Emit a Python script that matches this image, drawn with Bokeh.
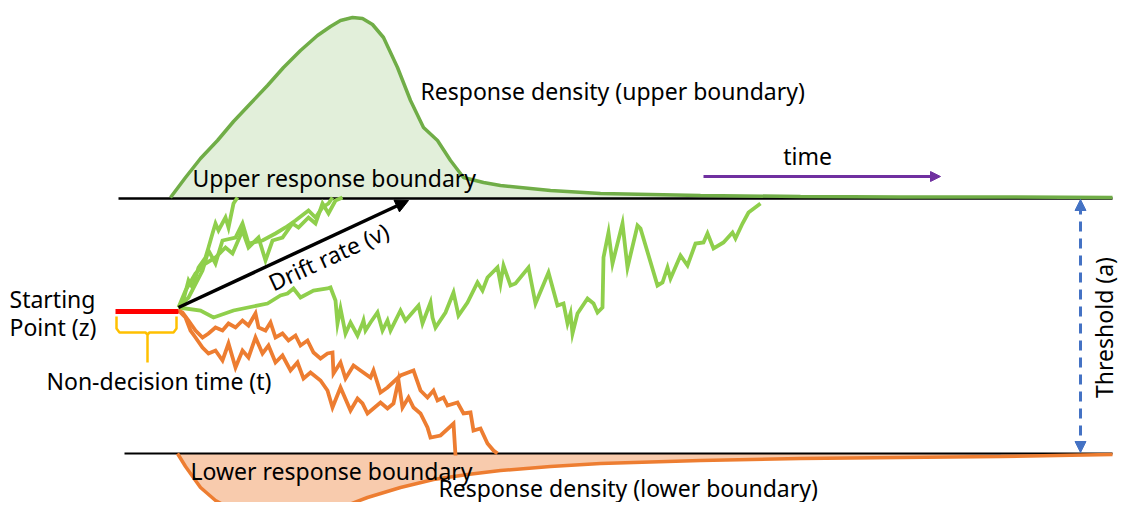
from bokeh.plotting import figure
from bokeh.models import Range1d, Label, Arrow, NormalHead
from bokeh.embed import file_html
from bokeh.resources import INLINE

# ---------------- data (diagram coordinates; y grows downward) ----------------
upper_boundary_y = 198
lower_boundary_y = 453
boundary_x0, boundary_x1 = 118, 1112
lower_boundary_x0 = 124

upper_density_x = [170, 185, 200, 217, 233, 250, 267, 283, 300, 317, 330, 340, 352, 362, 372, 383, 397, 410, 423,
                   437, 450, 463, 483, 500, 550, 600, 700, 800, 900, 1000, 1112]
upper_density_y = [197, 177, 158, 140, 121, 103, 85, 67, 50, 35, 26, 20, 17, 18, 24, 37, 67, 100, 127,
                   140, 160, 177, 182, 185, 190, 193, 195, 196, 196.5, 196.5, 197]

lower_density_x = [177, 185, 200, 215, 233, 250, 267, 300, 333, 367, 400, 433, 467, 500, 550, 600,
                   700, 800, 900, 1000, 1112]
lower_density_y = [453, 466, 487, 500, 510, 515, 518, 518, 510, 497, 487, 479, 474, 470, 466, 463,
                   460, 458, 457, 456, 454]

green_long_x = [178, 200, 213, 233, 267, 280, 287, 293, 300, 313, 327, 330, 335, 337, 340, 345, 350, 357,
                362, 363, 365, 370, 377, 382, 387, 390, 400, 405, 418, 422, 430, 432, 435, 445, 453, 458,
                467, 477, 482, 487, 497, 500, 503, 510, 515, 528, 535, 548, 557, 563, 567, 570, 572, 577,
                587, 593, 597, 602, 603, 608, 612, 622, 627, 637, 640, 657, 662, 667, 670, 680, 687, 695,
                703, 707, 713, 723, 732, 735, 742, 748, 760]
green_long_y = [307, 310, 317, 310, 303, 295, 293, 288, 297, 290, 288, 287, 300, 323, 308, 333, 322, 335,
                323, 320, 330, 322, 312, 330, 320, 330, 310, 320, 305, 323, 302, 317, 327, 312, 292, 315,
                302, 282, 290, 277, 267, 283, 265, 285, 283, 267, 303, 272, 305, 303, 323, 313, 333, 313,
                298, 303, 312, 307, 257, 232, 263, 223, 267, 225, 228, 285, 282, 267, 278, 255, 265, 243,
                242, 233, 248, 242, 232, 238, 223, 212, 203]

green_a_x = [178, 182, 188, 192, 198, 205, 208, 212, 215, 218, 225, 228, 233, 237]
green_a_y = [307, 303, 280, 287, 267, 257, 247, 233, 223, 230, 217, 227, 203, 197]

green_b_x = [178, 185, 195, 205, 215, 225, 232, 242, 248, 258, 265, 272, 282, 292, 298, 308, 315,
             322, 328, 335, 342]
green_b_y = [307, 290, 273, 263, 257, 247, 253, 230, 247, 237, 260, 240, 237, 223, 227, 217, 223,
             203, 213, 200, 197]

green_c_x = [178, 188, 202, 208, 215, 222, 235, 242, 248, 262, 275, 285, 295, 308, 315, 322, 328, 332]
green_c_y = [307, 297, 270, 250, 263, 240, 237, 223, 243, 240, 233, 227, 220, 210, 217, 207, 203, 197]

orange_a_x = [178, 182, 188, 195, 202, 208, 215, 222, 228, 235, 242, 248, 255, 258, 265, 270, 275, 282,
              288, 295, 300, 307, 313, 320, 327, 332, 333, 340, 345, 353, 360, 370, 373, 380, 387, 400,
              413, 420, 427, 433, 437, 443, 447, 457, 463, 470, 473, 480, 487, 493, 497]
orange_a_y = [310, 312, 320, 330, 337, 333, 327, 330, 323, 327, 320, 325, 313, 327, 330, 322, 337, 333,
              340, 335, 345, 340, 352, 358, 353, 352, 373, 362, 378, 365, 370, 377, 370, 392, 387, 375,
              370, 390, 397, 390, 400, 397, 405, 402, 413, 412, 430, 428, 443, 450, 453]

orange_b_x = [178, 185, 190, 195, 202, 208, 215, 222, 228, 235, 242, 248, 255, 262, 268, 275, 282, 290,
              297, 303, 310, 320, 327, 332, 340, 350, 357, 362, 367, 380, 387, 393, 398, 402, 408, 413,
              420, 427, 430, 440, 453, 455]
orange_b_y = [310, 317, 330, 337, 347, 353, 350, 360, 343, 367, 350, 357, 337, 353, 345, 362, 355, 370,
              362, 378, 372, 380, 390, 407, 387, 410, 398, 403, 413, 402, 408, 403, 380, 407, 397, 407,
              413, 427, 437, 435, 423, 455]

start_x0, start_x1, start_y = 115, 178, 311
brace_left_x = [116, 116, 119, 145, 147, 147]
brace_left_y = [316, 328, 332, 332, 334, 362]
brace_right_x = [147, 149, 173, 176, 176]
brace_right_y = [334, 332, 332, 328, 316]

drift_start = (178, 307)
drift_end = (408, 200)
time_start = (703, 176)
time_end = (940, 176)
threshold_x = 1080

labels = ["Starting", "Point (z)", "Non-decision time (t)", "Response density (upper boundary)",
          "Upper response boundary", "time", "Drift rate (v)", "Threshold (a)",
          "Lower response boundary", "Response density (lower boundary)"]

# ---------------- figure ----------------
p = figure(width=1119, height=502, x_range=Range1d(0, 1119), y_range=Range1d(502, 0),
           output_backend="svg", toolbar_location=None, x_axis_type=None, y_axis_type=None,
           min_border=0)
p.grid.visible = False
p.outline_line_color = None
p.background_fill_color = "white"

GREEN_FILL = "#e2efda"
GREEN_LINE = "#70ad47"
ORANGE_FILL = "#f8cbad"
ORANGE_LINE = "#ed7d31"
WALK_GREEN = "#8fcf4c"

# densities (fills)
p.patch(upper_density_x + [upper_density_x[-1], upper_density_x[0]],
        upper_density_y + [upper_boundary_y, upper_boundary_y],
        fill_color=GREEN_FILL, line_color=None)
p.patch(lower_density_x + [lower_density_x[-1], lower_density_x[0]],
        lower_density_y + [lower_boundary_y, lower_boundary_y],
        fill_color=ORANGE_FILL, line_color=None)

# boundaries
p.line([boundary_x0, boundary_x1], [upper_boundary_y, upper_boundary_y], line_color="black", line_width=2.5)
p.line([lower_boundary_x0, boundary_x1], [lower_boundary_y, lower_boundary_y], line_color="black", line_width=2)

# density outlines
p.line(upper_density_x, upper_density_y, line_color=GREEN_LINE, line_width=3.5)
p.line(lower_density_x, lower_density_y, line_color=ORANGE_LINE, line_width=3.5)

# random walks
for xs, ys in [(green_a_x, green_a_y), (green_b_x, green_b_y), (green_c_x, green_c_y),
               (green_long_x, green_long_y)]:
    p.line(xs, ys, line_color=WALK_GREEN, line_width=3.8, line_join="miter")
for xs, ys in [(orange_a_x, orange_a_y), (orange_b_x, orange_b_y)]:
    p.line(xs, ys, line_color=ORANGE_LINE, line_width=3.8, line_join="miter")

# starting point + non-decision brace
p.line([start_x0, start_x1], [start_y, start_y], line_color="#ff0000", line_width=5)
p.line(brace_left_x, brace_left_y, line_color="#ffc000", line_width=2.5)
p.line(brace_right_x, brace_right_y, line_color="#ffc000", line_width=2.5)

# arrows
p.add_layout(Arrow(x_start=drift_start[0], y_start=drift_start[1], x_end=drift_end[0], y_end=drift_end[1],
                   line_color="black", line_width=3.5,
                   end=NormalHead(size=13, fill_color="black", line_color="black")))
p.add_layout(Arrow(x_start=time_start[0], y_start=time_start[1], x_end=time_end[0], y_end=time_end[1],
                   line_color="#7030a0", line_width=3,
                   end=NormalHead(size=10, fill_color="#7030a0", line_color="#7030a0")))
p.add_layout(Arrow(x_start=threshold_x, y_start=lower_boundary_y - 1, x_end=threshold_x, y_end=upper_boundary_y + 1,
                   line_color="#4472c4", line_width=3, line_dash="10 7",
                   start=NormalHead(size=11, fill_color="#4472c4", line_color="#4472c4", line_dash="solid"),
                   end=NormalHead(size=11, fill_color="#4472c4", line_color="#4472c4", line_dash="solid")))

FONT = "Noto Sans"
FS = "23px"

def lab(text, x, y, align="left", angle=0, baseline="middle"):
    p.add_layout(Label(x=x, y=y, text=text, text_font=FONT, text_font_size=FS, text_color="black",
                       text_align=align, text_baseline=baseline, angle=angle, angle_units="deg"))

lab(labels[0], 9, 298)
lab(labels[1], 9, 326)
lab(labels[2], 46, 380)
lab(labels[3], 420, 90)
lab(labels[4], 192, 177)
lab(labels[5], 807, 155, align="center")
lab(labels[6], 328, 256, align="center", angle=24.7)
lab(labels[7], 1103, 327, align="center", angle=90)
lab(labels[8], 190, 470)
lab(labels[9], 438, 487)

open("out.html", "w").write(file_html(p, INLINE))
